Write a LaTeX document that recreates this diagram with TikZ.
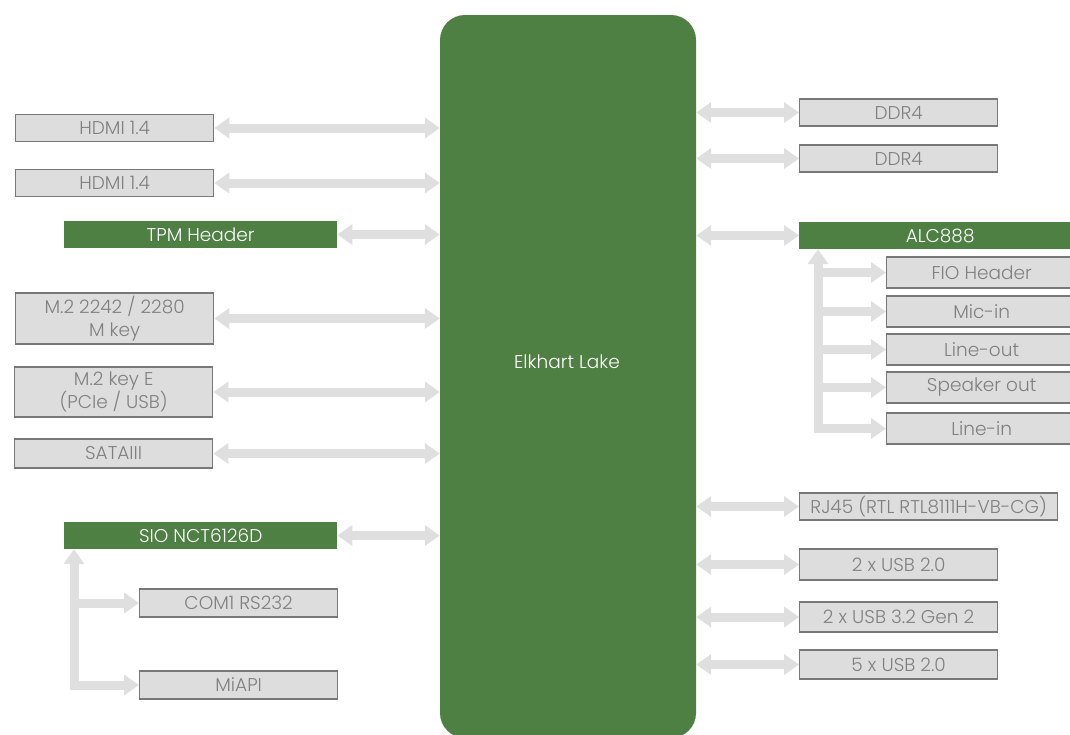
\documentclass[tikz,border=0pt]{standalone}
\usepackage{fontspec}
\setmainfont{Poppins Light}
\usetikzlibrary{arrows.meta}
\definecolor{elkgreen}{HTML}{4E7F43}
\definecolor{boxgray}{HTML}{DCDDDC}
\definecolor{boxline}{HTML}{787878}
\definecolor{txtgray}{HTML}{808080}
\definecolor{busgray}{HTML}{DEDFDE}

\begin{document}
\begin{tikzpicture}[x=1pt,y=-1pt,
  port/.style={draw=boxline,fill=boxgray,line width=1.3pt,text=txtgray,anchor=west,inner sep=0pt,
    minimum width=198pt,minimum height=27pt,align=center,font=\fontsize{18.5}{23}\selectfont},
  ctrl/.style={fill=elkgreen,text=white,anchor=west,inner sep=0pt,
    minimum width=273pt,minimum height=27pt,font=\fontsize{18.5}{23}\selectfont},
  bus/.style={draw=busgray,line width=9pt,{Triangle[width=20pt,length=15pt]}-{Triangle[width=20pt,length=15pt]}},
  feed/.style={draw=busgray,line width=9pt,-{Triangle[width=20pt,length=15pt]}}]
\useasboundingbox (0,0) rectangle (1070,734);

% the SoC
\node[fill=elkgreen,rounded corners=25pt,minimum width=256pt,minimum height=723pt,inner sep=0pt] (soc) at (568,376.5) {};
\node[text=white,font=\fontsize{18.5}{23}\selectfont] (soclabel) at (567,362) {Elkhart Lake};

% left side
\node[port] (hdmia) at (15,128) {HDMI 1.4};
\node[port] (hdmib) at (15,183) {HDMI 1.4};
\node[ctrl] (tpm) at (64,234.5) {TPM Header};
\node[port,minimum height=51pt] (mkey) at (15,318.5) {M.2 2242 / 2280\\M key};
\node[port,minimum height=50pt] (ekey) at (14,392) {M.2 key E\\(PCIe / USB)};
\node[port,minimum height=29pt] (sata) at (14,453.5) {SATAIII};
\node[ctrl] (sio) at (64,535.5) {SIO NCT6126D};
\node[port,minimum height=28pt] (com) at (139,603) {COM1 RS232};
\node[port,minimum height=28pt] (miapi) at (139,685) {MiAPI};

% right side
\node[port] (ddra) at (799,112.5) {DDR4};
\node[port] (ddrb) at (799,158.5) {DDR4};
\node[ctrl,minimum width=282pt] (alc) at (799,235.5) {ALC888};
\node[port,minimum width=190pt,minimum height=31pt] (fio) at (886,272.5) {FIO Header};
\node[port,minimum width=190pt,minimum height=31pt] (mic) at (886,311.5) {Mic-in};
\node[port,minimum width=190pt,minimum height=31pt] (lout) at (886,349.5) {Line-out};
\node[port,minimum width=190pt,minimum height=31pt] (spk) at (886,387.5) {Speaker out};
\node[port,minimum width=190pt,minimum height=31pt] (lin) at (886,428.5) {Line-in};
\node[port,minimum width=258pt] (rj) at (799,506.5) {RJ45 (RTL RTL8111H-VB-CG)};
\node[port,minimum height=31pt] (usba) at (799,564.5) {2 x USB 2.0};
\node[port,minimum height=30pt] (usbb) at (799,617) {2 x USB 3.2 Gen 2};
\node[port,minimum height=29pt] (usbc) at (799,664.5) {5 x USB 2.0};

% buses
\foreach \n in {hdmia,hdmib,tpm,mkey,ekey,sata,sio}
  \draw[bus] (\n.east) -- (soc.west |- \n.east);
\foreach \n in {ddra,ddrb,alc,rj,usba,usbb,usbc}
  \draw[bus] (soc.east |- \n.west) -- (\n.west);

% audio and SIO fan-out
\draw[bus] (lin.west) -| ([xshift=19pt]alc.south west);
\foreach \n in {fio,mic,lout,spk}
  \draw[feed] ([xshift=19pt]alc.south west |- \n.west) -- (\n.west);
\draw[bus] (miapi.west) -| ([xshift=10pt]sio.south west);
\draw[feed] ([xshift=10pt]sio.south west |- com.west) -- (com.west);
\end{tikzpicture}
\end{document}
